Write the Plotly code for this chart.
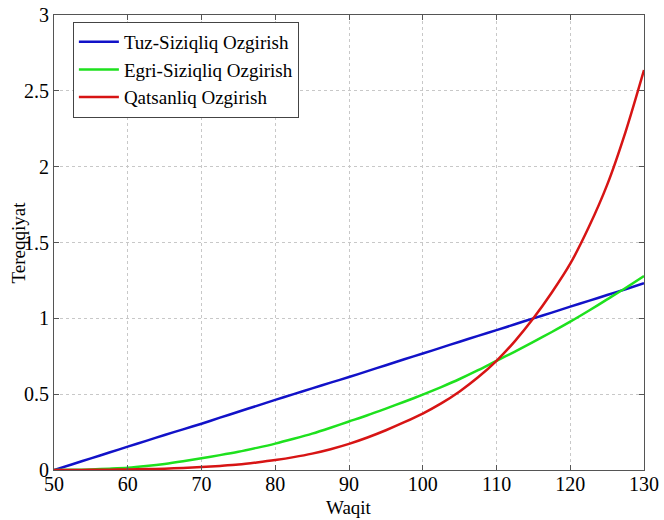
import plotly.graph_objects as go

waqit = [50, 52.5, 55, 57.5, 60, 62.5, 65, 67.5, 70, 72.5, 75, 77.5, 80, 82.5, 85, 87.5, 90,
         92.5, 95, 97.5, 100, 102.5, 105, 107.5, 110, 112.5, 115, 117.5, 120, 122.5, 125, 127.5, 130]
tuz = [0.0, 0.038, 0.077, 0.115, 0.154, 0.192, 0.231, 0.268, 0.305, 0.345, 0.384, 0.423, 0.462,
       0.5, 0.538, 0.576, 0.613, 0.652, 0.691, 0.73, 0.768, 0.807, 0.846, 0.884, 0.922, 0.961,
       1.0, 1.038, 1.077, 1.115, 1.154, 1.192, 1.231]
egri = [0.0, 0.001, 0.004, 0.009, 0.015, 0.026, 0.04, 0.058, 0.078, 0.098, 0.12, 0.146, 0.174,
        0.206, 0.24, 0.279, 0.32, 0.361, 0.405, 0.45, 0.497, 0.547, 0.6, 0.658, 0.72, 0.781,
        0.845, 0.91, 0.978, 1.05, 1.125, 1.2, 1.279]
qatsan = [0.0, 0.0003, 0.001, 0.002, 0.004, 0.006, 0.009, 0.013, 0.019, 0.027, 0.036, 0.05,
          0.066, 0.085, 0.108, 0.137, 0.172, 0.214, 0.262, 0.315, 0.372, 0.439, 0.518, 0.611,
          0.72, 0.85, 1.0, 1.17, 1.36, 1.6, 1.88, 2.23, 2.637]

names = ["Tuz-Siziqliq Ozgirish", "Egri-Siziqliq Ozgirish", "Qatsanliq Ozgirish"]
colors = ["rgb(18,18,200)", "rgb(30,225,30)", "rgb(215,20,20)"]
x_ticks = [50, 60, 70, 80, 90, 100, 110, 120, 130]
y_ticks = [0, 0.5, 1, 1.5, 2, 2.5, 3]
y_labels = ["0", "0.5", "1", "1.5", "2", "2.5", "3"]
x_title = "Waqit"
y_title = "Tereqqiyat"

fig = go.Figure()
for ys, nm, col in zip([tuz, egri, qatsan], names, colors):
    fig.add_trace(go.Scatter(x=waqit, y=ys, mode="lines", name=nm,
                             line=dict(color=col, width=2.5, shape="spline", smoothing=0.8)))

font = "Liberation Serif"
axis_common = dict(showline=True, linecolor="#555555", linewidth=1, mirror="ticks",
                   ticks="inside", ticklen=5, tickcolor="#555555", automargin=False,
                   showgrid=True, gridcolor="#c8c8c8", griddash="dot", gridwidth=1,
                   zeroline=False, tickfont=dict(family=font, size=20, color="black"))

fig.update_layout(
    width=664, height=520,
    margin=dict(l=54, r=20, t=15, b=50),
    paper_bgcolor="white", plot_bgcolor="white",
    font=dict(family=font, color="black"),
    xaxis=dict(range=[50, 130], tickvals=x_ticks, ticklabelstandoff=-4, **axis_common),
    yaxis=dict(range=[0, 3], tickvals=y_ticks, ticktext=y_labels, **axis_common),
    legend=dict(x=0.032, y=0.985, xanchor="left", yanchor="top",
                bgcolor="white", bordercolor="#444444", borderwidth=1,
                font=dict(family=font, size=19), tracegroupgap=0, itemwidth=40),
    showlegend=True,
    annotations=[
        dict(text=x_title, xref="paper", yref="paper", x=0.5, y=-0.082,
             xanchor="center", yanchor="middle", showarrow=False,
             font=dict(family=font, size=19, color="black")),
        dict(text=y_title, xref="paper", yref="paper", x=-0.061, y=0.5,
             xanchor="center", yanchor="middle", showarrow=False, textangle=-90,
             font=dict(family=font, size=19, color="black")),
    ],
)

fig.write_html("out.html", config={"displayModeBar": False},
               post_script="document.body.style.margin='0';document.body.style.overflow='hidden';")
